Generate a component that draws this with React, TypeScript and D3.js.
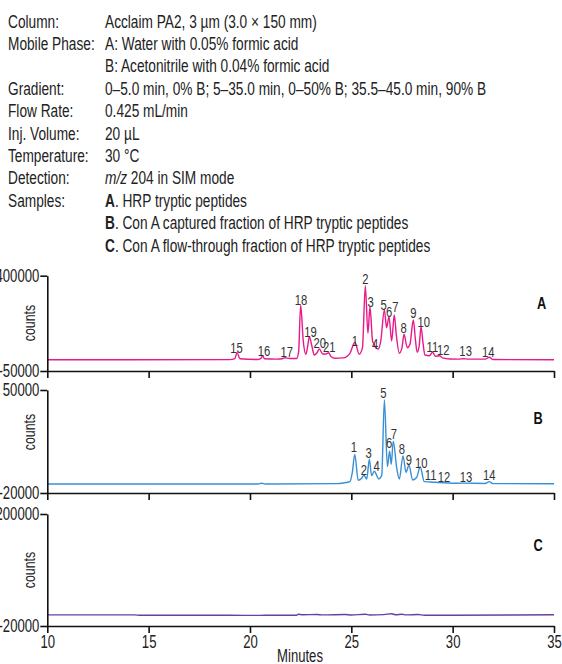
import React, { useEffect, useRef } from "react";
import * as d3 from "d3";

const FONT = "'Liberation Sans', Arial, sans-serif";
const SX = 0.75; // horizontal squeeze to mimic a condensed face

// run conditions (label, value). **x** = bold, *x* = italic
const headerRows: [string, string][] = [
  ["Column:", "Acclaim PA2, 3 µm (3.0 × 150 mm)"],
  ["Mobile Phase:", "A: Water with 0.05% formic acid"],
  ["", "B: Acetonitrile with 0.04% formic acid"],
  ["Gradient:", "0–5.0 min, 0% B; 5–35.0 min, 0–50% B; 35.5–45.0 min, 90% B"],
  ["Flow  Rate:", "0.425 mL/min"],
  ["Inj. Volume:", "20 µL"],
  ["Temperature:", "30 °C"],
  ["Detection:", "*m/z* 204 in SIM mode"],
  ["Samples:", "**A**. HRP tryptic peptides"],
  ["", "**B**. Con A captured fraction of HRP tryptic peptides"],
  ["", "**C**. Con A flow-through fraction of HRP tryptic peptides"],
];

const minutes = [10, 15, 20, 25, 30, 35];

// [minutes, counts]
const traceA: [number, number][] = [
  [10, 3000], [14, 3000], [19.0, 3500], [19.25, 8000], [19.36, 38000], [19.5, 8000],
  [20.4, 4000], [20.55, 10000], [20.62, 22000], [20.72, 8000], [21.3, 6000], [21.6, 8000],
  [21.73, 12800], [21.97, 9000], [22.3, 9000], [22.4, 40000], [22.5, 262000], [22.63, 90000],
  [22.76, 28900], [22.85, 70000], [22.93, 112000], [23.05, 70000], [23.17, 25500], [23.3, 35000],
  [23.42, 53900], [23.59, 30300], [23.75, 30000], [23.88, 36400], [24.0, 18000], [24.19, 10000],
  [24.6, 12000], [24.93, 33600], [25.18, 85500], [25.39, 28900], [25.55, 60000], [25.69, 352800],
  [25.82, 128000], [25.92, 253600], [26.05, 90000], [26.13, 76000], [26.2, 60000], [26.33, 53900],
  [26.45, 90000], [26.63, 238000], [26.74, 154500], [26.86, 206400], [26.99, 91700], [27.12, 214400],
  [27.22, 120000], [27.37, 33600], [27.5, 60000], [27.6, 123300], [27.76, 60000], [27.89, 75000],
  [28.06, 190800], [28.16, 100000], [28.25, 38300], [28.35, 70000], [28.44, 159200], [28.54, 80000],
  [28.63, 25500], [28.85, 22000], [29.01, 38300], [29.15, 20000], [29.34, 22250], [29.5, 12000],
  [29.87, 6700], [30.3, 6000], [30.52, 8000], [30.8, 6000], [31.6, 6000], [31.81, 14700],
  [32.0, 4000], [35, 3300],
];

const traceB: [number, number][] = [
  [10, -13900], [20.4, -13900], [20.58, -13400], [20.75, -13900], [24.3, -13600], [24.6, -13200],
  [24.93, -12300], [25.05, -6000], [25.17, 6170], [25.34, -11340], [25.51, -10000], [25.62, -7940],
  [25.76, -10500], [25.89, 2970], [26.0, -8200], [26.13, -5210], [26.36, -10460], [26.5, -8000],
  [26.63, 43180], [26.78, -2080], [26.89, 8420], [26.97, -440], [27.07, 15240], [27.24, -3000],
  [27.37, -10460], [27.55, 5220], [27.7, -5890], [27.84, -1120], [28.03, -11140], [28.22, -9500],
  [28.4, -2280], [28.6, -12300], [28.91, -12500], [29.34, -12900], [30.0, -13400], [30.52, -13300],
  [31.6, -13500], [31.81, -12300], [31.98, -13600], [35, -13700],
];

const traceC: [number, number][] = [
  [10, 1800], [14.3, 1800], [14.6, 1000], [19, 1000], [20.5, 800], [21, 1200], [22.3, 1200],
  [22.38, 3200], [22.6, 2200], [23.3, 2600], [23.6, 1800], [24.7, 2500], [25.0, 1600],
  [25.7, 3000], [25.9, 1600], [26.6, 2400], [26.99, 4200], [27.2, 2000], [27.5, 3000],
  [27.7, 1800], [28.3, 2600], [28.6, 1200], [30, 1200], [33, 1500], [35, 2000],
];

// [label, minutes, counts] of each peak label's base
const peaksA: [string, number, number][] = [
  ["15", 19.34, 33580], ["16", 20.69, 22250], ["17", 21.81, 17530], ["18", 22.52, 261600],
  ["19", 22.99, 112000], ["20", 23.44, 60000], ["21", 23.91, 38300], ["1", 25.17, 68000],
  ["2", 25.69, 359400], ["3", 25.95, 253600], ["4", 26.18, 52500], ["5", 26.6, 238000],
  ["6", 26.86, 206400], ["7", 27.17, 230000], ["8", 27.58, 128000], ["9", 28.06, 198800],
  ["10", 28.58, 159200], ["11", 29.0, 41100], ["12", 29.54, 25550], ["13", 30.64, 22250],
  ["14", 31.76, 14700],
];

const peaksB: [string, number, number][] = [
  ["1", 25.13, 7660], ["2", 25.62, -7770], ["3", 25.86, 3580], ["4", 26.25, -5050],
  ["5", 26.58, 44360], ["6", 26.87, 10380], ["7", 27.1, 16700], ["8", 27.5, 6300],
  ["9", 27.84, -970], ["10", 28.45, -2800], ["11", 28.91, -11160], ["12", 29.57, -12300],
  ["13", 30.66, -12300], ["14", 31.81, -11160],
];

const yTicksA = [400000, -50000];
const yTicksB = [50000, -20000];
const yTicksC = [200000, -20000];

export default function App() {
  const ref = useRef<SVGSVGElement>(null);

  useEffect(() => {
    const width = 562;
    const height = 664;
    const svg = d3.select(ref.current).attr("width", width).attr("height", height);
    svg.selectAll("*").remove();
    svg.attr("font-family", FONT);

    // condensed text helper
    const ctext = (sel: any, x: number, y: number, extra = "", sx = SX) =>
      sel.append("text").attr("transform", `translate(${x},${y}) ${extra} scale(${sx},1)`);

    // header block
    const hdr = svg.append("g").attr("font-size", 18.5).attr("fill", "#222");
    headerRows.forEach(([lab, val], i) => {
      const yy = 27.5 + i * 22.4;
      if (lab) ctext(hdr, 8, yy, "", 0.74).text(lab);
      const t = ctext(hdr, 105, yy, "", 0.74);
      val.split(/(\*\*[^*]+\*\*|\*[^*]+\*)/).filter((s) => s).forEach((s) => {
        if (s.startsWith("**")) t.append("tspan").attr("font-weight", "bold").text(s.slice(2, -2));
        else if (s.startsWith("*")) t.append("tspan").attr("font-style", "italic").text(s.slice(1, -1));
        else t.append("tspan").text(s);
      });
    });

    const x = d3.scaleLinear().domain([10, 35]).range([47.3, 554]);

    const panels = [
      { trace: traceA, peaks: peaksA, ticks: yTicksA, top: 275.7, bottom: 371, color: "#e8198b", letter: "A", letterX: 541.5, letterY: 303, countsY: 323, showX: false },
      { trace: traceB, peaks: peaksB, ticks: yTicksB, top: 390, bottom: 493, color: "#3a8fd4", letter: "B", letterX: 538, letterY: 418, countsY: 432, showX: false },
      { trace: traceC, peaks: [] as [string, number, number][], ticks: yTicksC, top: 514, bottom: 626, color: "#6b3fa0", letter: "C", letterX: 538, letterY: 545, countsY: 570, showX: true },
    ];

    panels.forEach((p) => {
      const y = d3
        .scaleLinear()
        .domain([p.ticks[1], p.ticks[0]])
        .range([p.bottom, p.top]);

      const g = svg.append("g");

      const line = d3
        .line<[number, number]>()
        .x((d) => x(d[0]))
        .y((d) => y(d[1]))
        .curve(d3.curveMonotoneX);

      g.append("path")
        .datum(p.trace)
        .attr("d", line)
        .attr("fill", "none")
        .attr("stroke", p.color)
        .attr("stroke-width", 1.4);

      // peak labels
      p.peaks.forEach(([lab, t, v]) => {
        ctext(g, x(t), y(v))
          .attr("text-anchor", "middle")
          .attr("font-size", 15)
          .attr("fill", "#333")
          .text(lab);
      });

      // axes
      const ya = g
        .append("g")
        .attr("transform", `translate(${x(10)},0)`)
        .call(
          d3
            .axisLeft(y)
            .tickValues(p.ticks)
            .tickSize(7)
            .tickSizeOuter(0)
            .tickFormat((d) => String(d))
        );
      const xa = g
        .append("g")
        .attr("transform", `translate(0,${p.bottom})`)
        .call(
          d3
            .axisBottom(x)
            .tickValues(minutes)
            .tickSize(7)
            .tickSizeOuter(0)
            .tickFormat((d) => (p.showX ? String(d) : ""))
        );
      [ya, xa].forEach((a) => {
        a.attr("font-family", FONT).attr("font-size", 17.5);
        a.selectAll("path,line").attr("stroke", "#111").attr("stroke-width", 1.6);
        a.selectAll("text").attr("fill", "#222").attr("transform", `scale(${SX},1)`);
      });
      ya.selectAll("text").attr("x", -8 / SX);

      ctext(g, 35, p.countsY, "rotate(-90)")
        .attr("text-anchor", "middle")
        .attr("font-size", 16.5)
        .attr("fill", "#222")
        .text("counts");

      ctext(g, p.letterX, p.letterY + 6, "", 0.8)
        .attr("text-anchor", "middle")
        .attr("font-size", 16)
        .attr("font-weight", "bold")
        .attr("fill", "#111")
        .text(p.letter);
    });

    ctext(svg, 300, 662)
      .attr("text-anchor", "middle")
      .attr("font-size", 17.5)
      .attr("fill", "#222")
      .text("Minutes");
  }, []);

  return <svg ref={ref} style={{ position: "absolute", left: 0, top: 0 }} />;
}
